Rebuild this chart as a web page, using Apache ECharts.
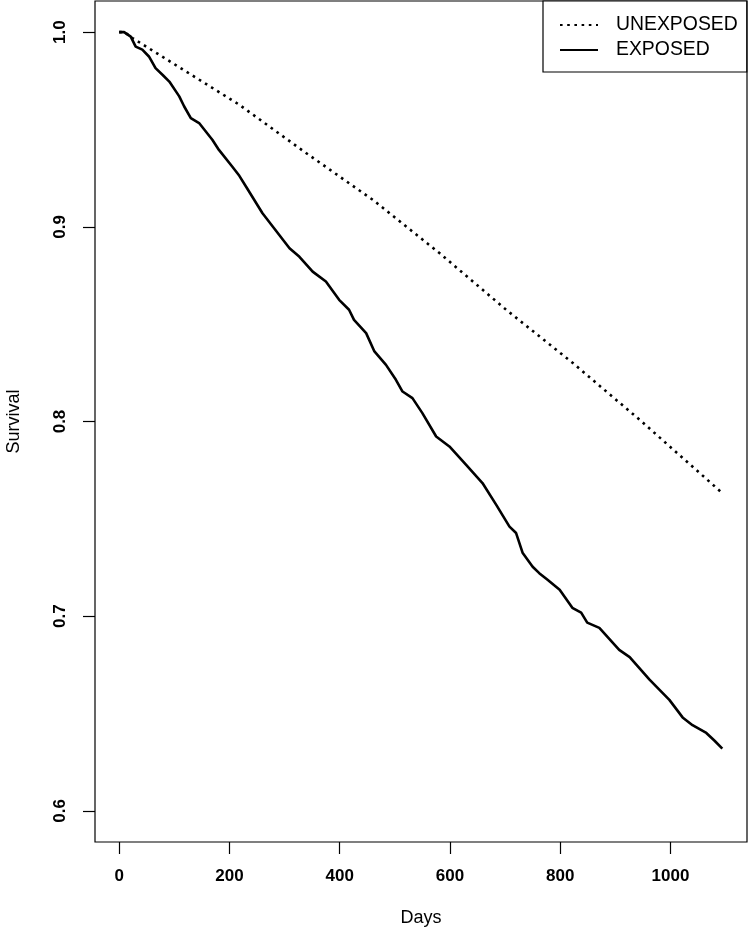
<!DOCTYPE html>
<html>
<head>
<meta charset="utf-8">
<script src="https://cdn.jsdelivr.net/npm/echarts@6/dist/echarts.min.js"></script>
<style>
html,body{margin:0;padding:0;background:#fff;}
#chart{width:750px;height:939px;}
</style>
</head>
<body>
<div id="chart"></div>
<script>
// ---- data ----
const seriesNames = ["UNEXPOSED", "EXPOSED"];

const unexposedDays = [0, 10, 24, 218, 339, 460, 581, 702, 823, 944, 1095];
const unexposedSurv = [1.0, 1.0, 0.997, 0.9627, 0.9379, 0.9139, 0.8865, 0.8574, 0.830, 0.8009, 0.763];

const exposedDays = [0, 9, 21, 30, 42, 54, 66, 79, 91, 109, 118, 130, 145, 169, 181, 205, 218, 230, 260,
  309, 327, 351, 375, 399, 417, 426, 448, 463, 484, 502, 514, 532, 550, 575, 599, 629, 659, 684, 708,
  720, 732, 750, 762, 777, 799, 822, 838, 849, 871, 907, 926, 962, 998, 1022, 1040, 1065, 1080, 1094];
const exposedSurv = [1.0, 1.0, 0.9977, 0.9926, 0.991, 0.9875, 0.9815, 0.978, 0.9746, 0.967, 0.9618, 0.9558,
  0.9533, 0.9447, 0.9395, 0.931, 0.9262, 0.9207, 0.907, 0.889, 0.8846, 0.877, 0.8719, 0.8625, 0.8574,
  0.8522, 0.8454, 0.836, 0.8291, 0.8214, 0.8154, 0.812, 0.8043, 0.7923, 0.7872, 0.7778, 0.7684, 0.7572,
  0.746, 0.7427, 0.7324, 0.7254, 0.7221, 0.7187, 0.7136, 0.7043, 0.7018, 0.6967, 0.694, 0.6827, 0.679,
  0.6674, 0.657, 0.648, 0.644, 0.640, 0.636, 0.632];

const xTicks = [0, 200, 400, 600, 800, 1000];
const yTicks = [0.6, 0.7, 0.8, 0.9, 1.0];
const xTitle = "Days";
const yTitle = "Survival";

// R-style 4% axis extension around data ranges
const xMin = -43.8, xMax = 1138.8;
const yMin = 0.584, yMax = 1.016;

const font = "'Liberation Sans', Arial, sans-serif";

function zip(a, b) { return a.map((v, i) => [v, b[i]]); }

const chart = echarts.init(document.getElementById('chart'), null, {renderer: 'canvas'});
chart.setOption({
  animation: false,
  backgroundColor: '#fff',
  grid: {
    left: 95, top: 1, right: 3, bottom: 97,
    containLabel: false,
    outerBoundsMode: 'none',
    show: true, borderColor: '#000', borderWidth: 1.2, backgroundColor: 'transparent'
  },
  legend: {
    orient: 'vertical',
    left: 543, top: 1,
    padding: [14, 9, 12, 16],
    itemGap: 5,
    itemWidth: 38,
    itemHeight: 14,
    backgroundColor: '#fff',
    borderColor: '#000',
    borderWidth: 1.2,
    borderRadius: 0,
    itemStyle: {opacity: 0},
    textStyle: {fontFamily: font, fontSize: 19.4, color: '#000', lineHeight: 20, padding: [0, 0, 0, 13]},
    data: seriesNames
  },
  xAxis: {
    type: 'value',
    min: xMin, max: xMax,
    name: xTitle,
    nameLocation: 'middle',
    nameGap: 67,
    nameTextStyle: {fontFamily: font, fontSize: 18, color: '#000'},
    axisLine: {show: false, onZero: false},
    splitLine: {show: false},
    axisTick: {show: true, inside: false, length: 12, customValues: xTicks, lineStyle: {color: '#000', width: 1.2}},
    axisLabel: {show: true, customValues: xTicks, margin: 26, fontFamily: font, fontSize: 17, fontWeight: 'bold', color: '#000',
      formatter: v => String(v)}
  },
  yAxis: {
    type: 'value',
    min: yMin, max: yMax,
    name: yTitle,
    nameLocation: 'middle',
    nameGap: 72,
    nameTextStyle: {fontFamily: font, fontSize: 18, color: '#000'},
    axisLine: {show: false, onZero: false},
    splitLine: {show: false},
    axisTick: {show: true, inside: false, length: 12, customValues: yTicks, lineStyle: {color: '#000', width: 1.2}},
    axisLabel: {show: true, customValues: yTicks, margin: 35, rotate: 90, align: 'center', verticalAlign: 'middle',
      fontFamily: font, fontSize: 17, fontWeight: 'bold', color: '#000',
      formatter: v => Number(v).toFixed(1)}
  },
  series: [
    {
      name: seriesNames[0],
      type: 'line',
      data: zip(unexposedDays, unexposedSurv),
      showSymbol: false, symbol: 'none',
      lineStyle: {color: '#000', width: 2.6, type: [2.6, 4.6], cap: 'butt'},
      itemStyle: {color: '#000'}
    },
    {
      name: seriesNames[1],
      type: 'line',
      data: zip(exposedDays, exposedSurv),
      showSymbol: false, symbol: 'none',
      lineStyle: {color: '#000', width: 2.6, type: 'solid'},
      itemStyle: {color: '#000'}
    }
  ]
});
</script>
</body>
</html>
